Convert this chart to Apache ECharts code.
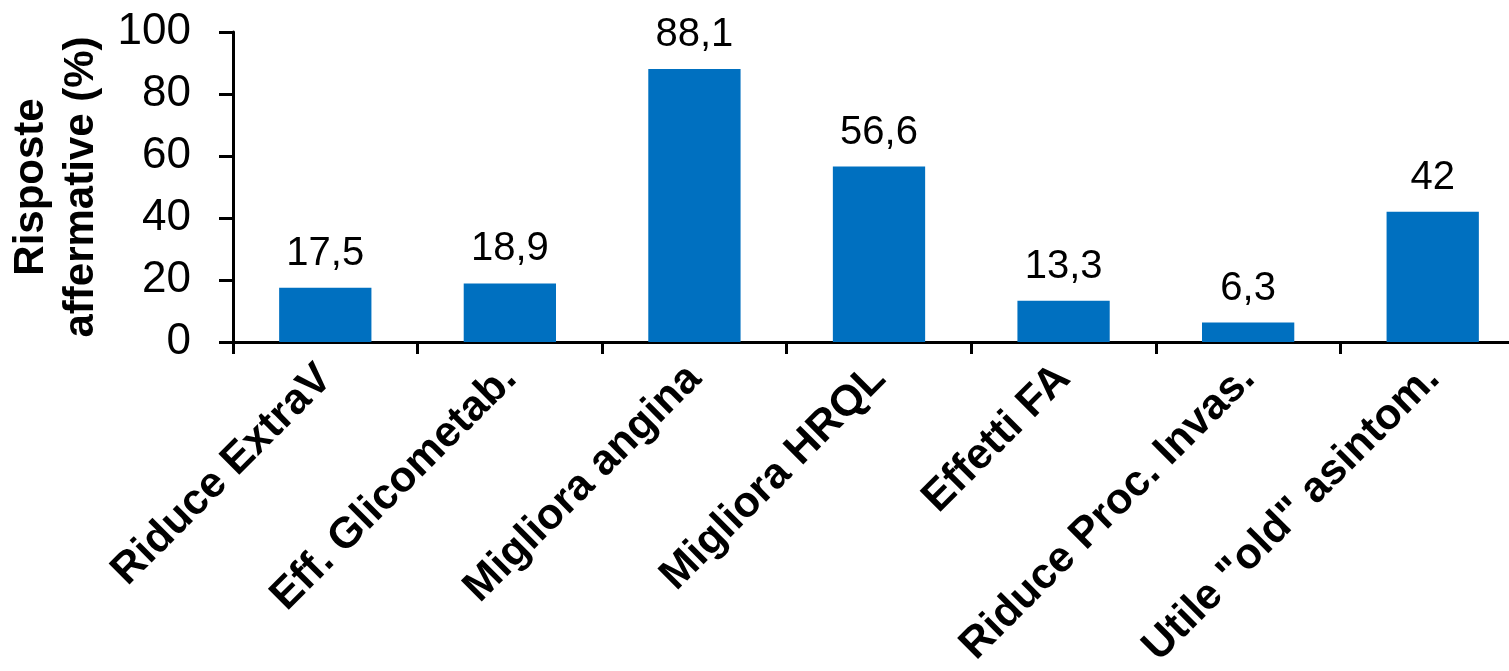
<!DOCTYPE html>
<html>
<head>
<meta charset="utf-8">
<style>
    html, body{
        margin: 0;
        padding: 0;
        background: #fff;
    }
    #chart{
        width: 1509px;
        height: 671px;
    }
</style>
</head>
<body>
<div id="chart"></div>
<script src="https://cdn.jsdelivr.net/npm/echarts@6/dist/echarts.min.js"></script>
<script>
    // categorie (asse x)
    var categories = ['Riduce ExtraV', 'Eff. Glicometab.', 'Migliora angina', 'Migliora HRQL',
        'Effetti FA', 'Riduce Proc. Invas.', 'Utile "old" asintom.'];
    // risposte affermative (%)
    var values = [17.5, 18.9, 88.1, 56.6, 13.3, 6.3, 42];
    // tick asse y
    var yTicks = [0, 20, 40, 60, 80, 100];

    var font = 'Liberation Sans, Arial, sans-serif';

    var option = {
        animation: false,
        // l'area del grafico continua oltre il bordo destro, come nell'originale
        grid: {
            left: 233,
            top: 32,
            width: 1292,
            height: 310,
            outerBoundsMode: 'none'
        },
        xAxis: {
            type: 'category',
            data: categories,
            axisLine: {lineStyle: {color: '#000', width: 3}},
            axisTick: {show: true, length: 12, lineStyle: {color: '#000', width: 3}},
            axisLabel: {
                interval: 0,
                rotate: 45,
                margin: 30,
                color: '#000',
                fontFamily: font,
                fontWeight: 'bold',
                fontSize: 43
            }
        },
        yAxis: {
            type: 'value',
            min: yTicks[0],
            max: yTicks[yTicks.length - 1],
            interval: yTicks[1] - yTicks[0],
            name: 'Risposte\naffermative (%)',
            nameLocation: 'middle',
            nameGap: 117,
            nameTextStyle: {
                color: '#000',
                fontFamily: font,
                fontWeight: 'bold',
                fontSize: 42,
                lineHeight: 50
            },
            splitLine: {show: false},
            axisLine: {show: true, lineStyle: {color: '#000', width: 3}},
            axisTick: {show: true, length: 14, lineStyle: {color: '#000', width: 3}},
            axisLabel: {
                margin: 42,
                color: '#000',
                fontFamily: font,
                fontSize: 44
            }
        },
        series: [{
            type: 'bar',
            data: values,
            barWidth: '50%',
            itemStyle: {color: '#0070C0'},
            label: {
                show: true,
                position: 'top',
                distance: 14,
                color: '#000',
                fontFamily: font,
                fontSize: 40,
                formatter: function (p) {
                    return String(p.value).replace('.', ',');
                }
            }
        }]
    };

    echarts.init(document.getElementById('chart')).setOption(option);
</script>
</body>
</html>
